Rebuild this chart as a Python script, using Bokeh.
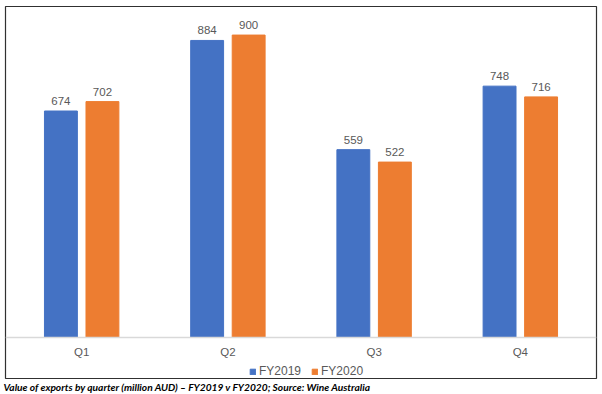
from bokeh.plotting import figure
from bokeh.models import ColumnDataSource, Range1d, FactorRange, Span, Legend, LegendItem, Title
from bokeh.transform import dodge
from bokeh.core.properties import value
from bokeh.embed import file_html
from bokeh.resources import INLINE

quarters = ["Q1", "Q2", "Q3", "Q4"]
fy2019 = [674, 884, 559, 748]
fy2020 = [702, 900, 522, 716]
series_names = ["FY2019", "FY2020"]
caption = "Value of exports by quarter (million AUD) \u2013 FY2019 v FY2020; Source: Wine Australia"

BLUE = "#4472C4"
ORANGE = "#ED7D31"
GREY = "#595959"

src = ColumnDataSource(dict(
    q=quarters,
    a=fy2019,
    b=fy2020,
    la=[str(v) for v in fy2019],
    lb=[str(v) for v in fy2020],
    qy=[-41.7] * len(quarters),
))

p = figure(
    width=602, height=394,
    x_range=FactorRange(*quarters, range_padding=0.021, range_padding_units="absolute"),
    y_range=Range1d(-122, 985),
    output_backend="svg", toolbar_location=None,
    x_axis_location=None, y_axis_location=None,
    min_border_left=5, min_border_right=6, min_border_top=6, min_border_bottom=16,
)
p.grid.visible = False
p.outline_line_color = "#303030"
p.outline_line_width = 1.2
p.background_fill_color = "white"
p.border_fill_color = "white"

p.add_layout(Span(location=0, dimension="width", line_color="#D9D9D9", line_width=1.5))

off = 0.142
bw = 0.225
ra = p.vbar(x=dodge("q", -off, range=p.x_range), top="a", width=bw, source=src,
            fill_color=BLUE, line_color=BLUE)
rb = p.vbar(x=dodge("q", off, range=p.x_range), top="b", width=bw, source=src,
            fill_color=ORANGE, line_color=ORANGE)

common = dict(text_font=value("Liberation Sans"), text_font_size="11.5px", text_color=GREY,
              text_align="center", text_baseline="middle")
p.text(x=dodge("q", -off, range=p.x_range), y="a", text="la", source=src, y_offset=-10, **common)
p.text(x=dodge("q", off, range=p.x_range), y="b", text="lb", source=src, y_offset=-10, **common)

p.text(x="q", y="qy", text="q", source=src,
       text_font=value("Liberation Sans"), text_font_size="11.5px", text_color=GREY,
       text_align="center", text_baseline="middle")

legend = Legend(
    items=[LegendItem(label=series_names[0], renderers=[ra]),
           LegendItem(label=series_names[1], renderers=[rb])],
    orientation="horizontal", location=(244, 0),
    label_text_font="Liberation Sans", label_text_font_size="12px", label_text_color=GREY,
    glyph_width=7, glyph_height=7, label_standoff=3, spacing=10,
    padding=0, margin=0, border_line_color=None, background_fill_alpha=0,
    label_height=12,
)
p.add_layout(legend)

p.add_layout(Title(text=caption, text_font="Lato", text_font_style="bold italic",
                   text_font_size="10.2px", text_color="black", align="left",
                   offset=-2, standoff=0), "below")

open("out.html", "w").write(file_html(p, INLINE))
